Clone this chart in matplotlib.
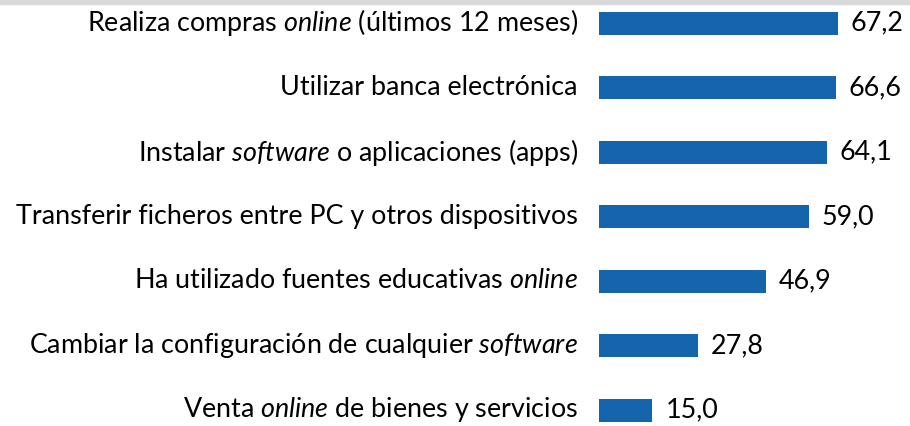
import matplotlib
matplotlib.use("Agg")
import matplotlib.pyplot as plt
from matplotlib.patches import Rectangle

FONT = "Lato"
plt.rcParams['font.family'] = [FONT, 'DejaVu Sans']
plt.rcParams['mathtext.fontset'] = 'custom'
plt.rcParams['mathtext.rm'] = FONT
plt.rcParams['mathtext.it'] = FONT + ':italic'

categories = [
    r"Realiza compras $\mathit{online}$ (últimos 12 meses)",
    "Utilizar banca electrónica",
    r"Instalar $\mathit{software}$ o aplicaciones (apps)",
    "Transferir ficheros entre PC y otros dispositivos",
    r"Ha utilizado fuentes educativas $\mathit{online}$",
    r"Cambiar la configuración de cualquier $\mathit{software}$",
    r"Venta $\mathit{online}$ de bienes y servicios",
]
values = [67.2, 66.6, 64.1, 59.0, 46.9, 27.8, 15.0]
value_labels = ["67,2", "66,6", "64,1", "59,0", "46,9", "27,8", "15,0"]

W, H = 910, 426
fig = plt.figure(figsize=(W / 100, H / 100), dpi=100)
fig.patches.append(Rectangle((0, 1 - 4 / H), 1, 4 / H, transform=fig.transFigure,
                             color="#d9d9d9", zorder=0))

x0 = 599
ax = fig.add_axes([x0 / W, 0, 1 - x0 / W, 1])
ax.set_axis_off()
pxu = 239 / 67.2
ax.set_xlim(0, (W - x0) / pxu)
step = 64.5
ax.set_ylim(6 + (H - 410) / step, -23 / step)

pos = list(range(len(values)))
ax.barh(pos, values, height=23 / step, color="#1565ac")
fs = 19.4
for p, v, lab, cat in zip(pos, values, value_labels, categories):
    ax.annotate(lab, (v, p), xytext=(13, 0), textcoords="offset pixels",
                ha="left", va="center", fontsize=fs, color="black")
    ax.annotate(cat, (0, p), xytext=(-21, 0), textcoords="offset pixels",
                ha="right", va="center", fontsize=fs, color="black", annotation_clip=False)

fig.savefig("out.png", dpi=100)
